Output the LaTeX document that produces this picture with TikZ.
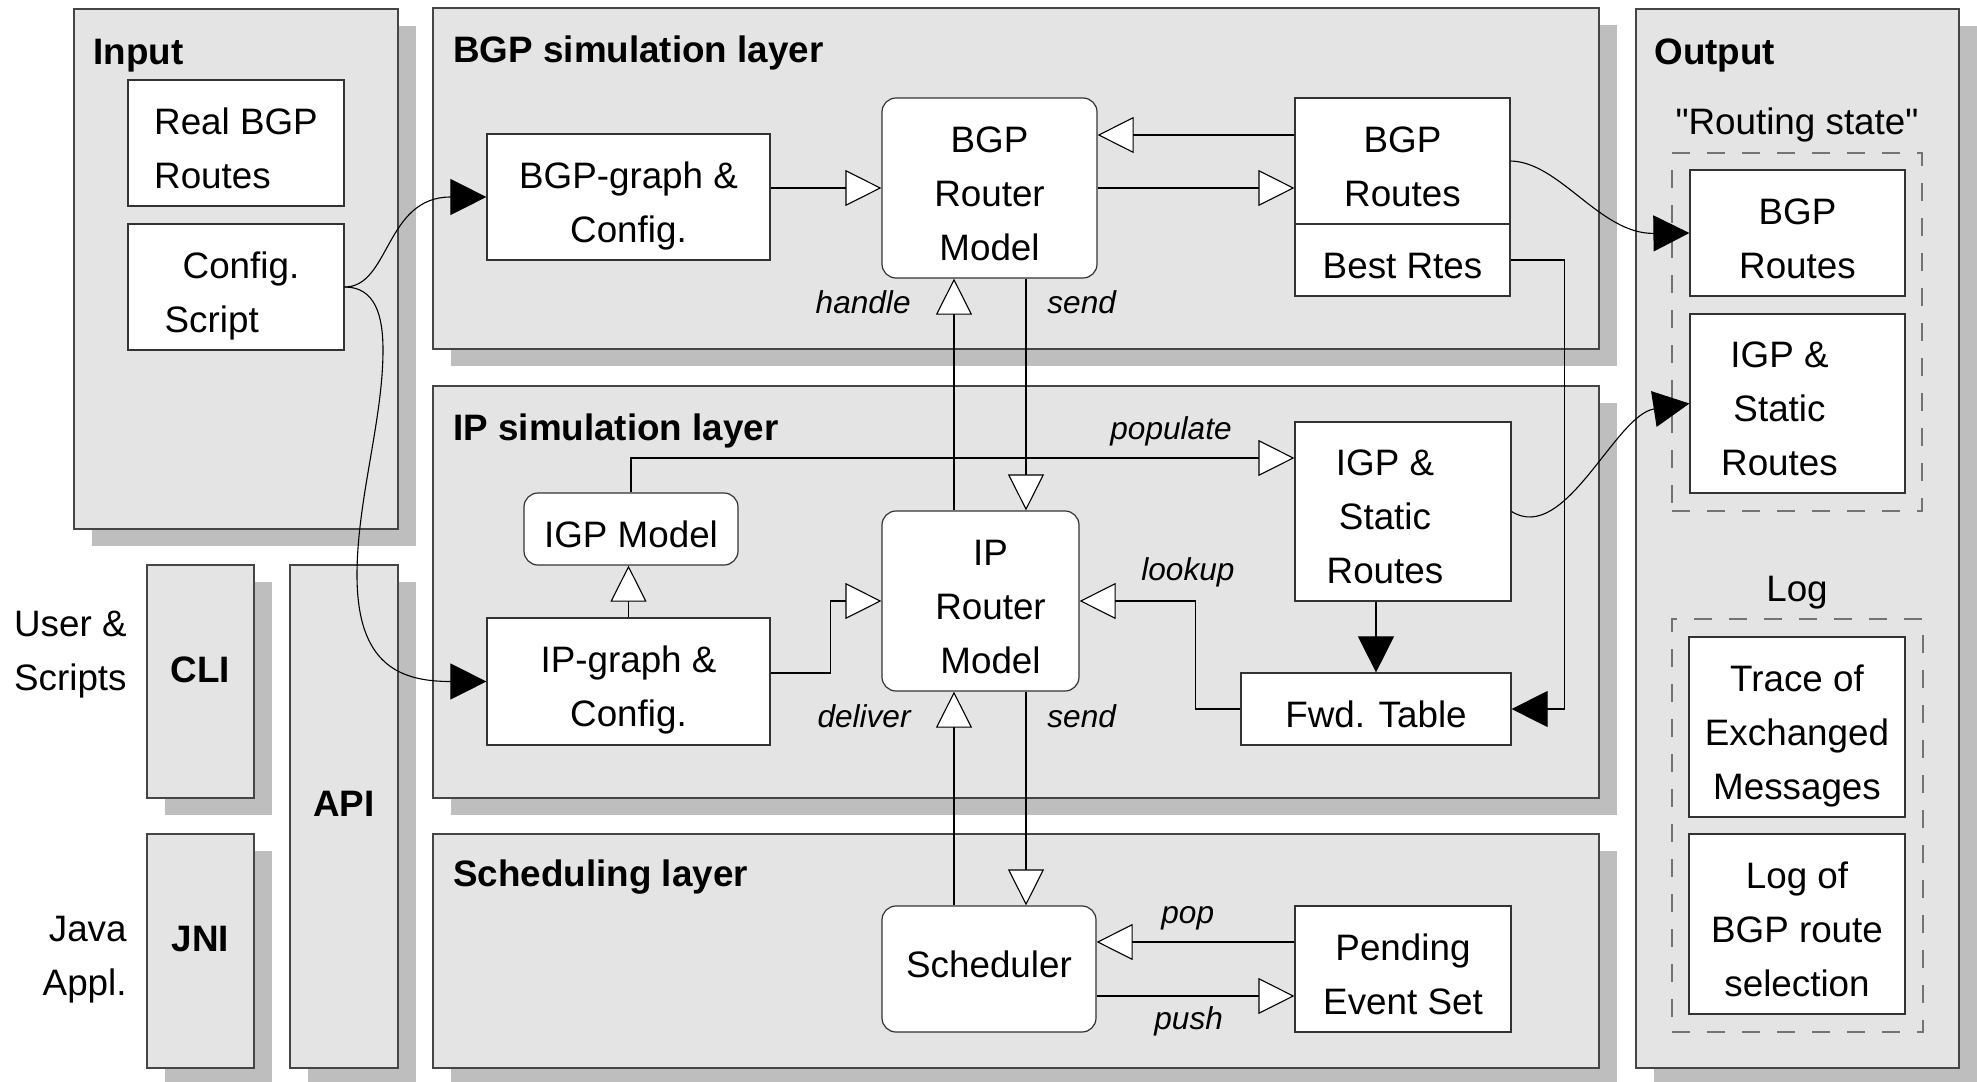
\documentclass[tikz,border=0pt]{standalone}
\usepackage{fontspec}
\setmainfont{Liberation Sans}
% same face without the TeX quote mapping, for straight double quotes
\newfontfamily\quotefont{Liberation Sans}
\usetikzlibrary{arrows.meta,shadows,calc}

\definecolor{panelfill}{gray}{0.894}
\definecolor{shadowfill}{gray}{0.745}
\definecolor{boxedge}{gray}{0.2}
\definecolor{paneledge}{gray}{0.27}
\definecolor{dashedge}{gray}{0.45}

% invisible rule that lowers the first line of a box label a little
\newcommand\capstrut{\rule{0pt}{18.2pt}}
% straight double quote
\newcommand\sq{{\quotefont"}}

\tikzset{
  bodyfont/.style={font=\fontsize{18.4pt}{27pt}\selectfont},
  panel/.style={draw=paneledge, line width=0.7pt, fill=panelfill, inner sep=0pt,
    drop shadow={shadow xshift=9pt, shadow yshift=-8.5pt, fill=shadowfill, opacity=1, draw=none}},
  box/.style={draw=boxedge, line width=0.6pt, fill=white, inner sep=0pt,
    bodyfont, align=center, text depth=0pt},
  rbox/.style={box, rounded corners=7pt},
  group/.style={draw=dashedge, line width=0.6pt, dash pattern=on 9pt off 8.5pt, inner sep=0pt},
  title/.style={font=\fontsize{18.4pt}{27pt}\selectfont\bfseries, inner sep=0pt, anchor=base west},
  plain/.style={bodyfont, inner sep=0pt, text depth=0pt},
  tag/.style={font=\fontsize{15.8pt}{19pt}\selectfont\itshape, inner sep=0pt},
  conn/.style={draw=black, line width=0.55pt},
  openarrow/.style={conn, -{Triangle[length=18pt, width=18pt, fill=white]}},
  fullarrow/.style={conn, -{Triangle[length=18pt, width=18pt]}},
}

\begin{document}
\begin{tikzpicture}[x=0.5pt, y=-0.5pt]
\useasboundingbox (0,0) rectangle (1977,1082);
\fill[white] (0,0) rectangle (1977,1082);

% ---------- panels ----------
\node[panel, minimum width=162pt, minimum height=260pt] (inputp) at (236,269) {};
\node[panel, minimum width=583pt, minimum height=170.5pt] (bgpp) at (1016,178.5) {};
\node[panel, minimum width=583pt, minimum height=206pt] (ipp) at (1016,592) {};
\node[panel, minimum width=583pt, minimum height=117pt] (schedp) at (1016,951) {};
\node[panel, minimum width=161.5pt, minimum height=529.5pt] (outp) at (1797.5,538.5) {};
\node[panel, minimum width=53.5pt, minimum height=116.5pt] (clip) at (200.5,681.5) {};
\node[panel, minimum width=53.5pt, minimum height=117pt] (jnip) at (200.5,951) {};
\node[panel, minimum width=54pt, minimum height=251.5pt] (apip) at (344,816.5) {};

% ---------- panel titles ----------
\node[title] (inputt) at (93,64) {Input};
\node[title] (bgpt) at (453,62) {BGP simulation layer};
\node[title] (ipt) at (453,440) {IP simulation layer};
\node[title] (schedt) at (453,886) {Scheduling layer};
\node[title] (outt) at (1654,64) {Output};
\node[title, anchor=base] (clit) at (200.5,682) {CLI};
\node[title, anchor=base] (apit) at (344,816) {API};
\node[title, anchor=base] (jnit) at (200.5,951) {JNI};

% ---------- side captions ----------
\node[plain, align=right, anchor=east] (userlbl) at (127,650.5) {User \&\\Scripts};
\node[plain, align=right, anchor=east] (javalbl) at (127,955.5) {Java\\Appl.};

% ---------- output groups ----------
\node[plain, anchor=base] (statelbl) at (1797,134) {\sq Routing state\sq};
\node[group, minimum width=125pt, minimum height=179pt] (stategrp) at (1797,332) {};
\node[plain, anchor=base] (loglbl) at (1797,601.5) {Log};
\node[group, minimum width=125.5pt, minimum height=206.5pt] (loggrp) at (1797.5,825.5) {};

% ---------- boxes ----------
\node[box, align=left, minimum width=108pt, minimum height=63pt] (realbgp) at (236,143) {\capstrut Real BGP\\Routes};
\node[box, align=left, minimum width=108pt, minimum height=63pt] (cfgscript) at (236,287) {\capstrut\hspace*{5pt}Config.\\\hspace*{-4pt}Script};

\node[box, minimum width=141.5pt, minimum height=63pt] (bgpgraph) at (628.5,197) {\capstrut BGP-graph \&\\Config.};
\node[rbox, minimum width=107.5pt, minimum height=90pt] (bgprouter) at (989.5,188) {\capstrut BGP\\Router\\Model};
\node[box, minimum width=107.5pt, minimum height=63pt] (bgproutes) at (1402.5,161) {\capstrut BGP\\Routes};
\node[box, minimum width=107.5pt, minimum height=36pt] (bestrtes) at (1402.5,260) {\capstrut Best Rtes};

\node[rbox, minimum width=107pt, minimum height=36pt] (igpmodel) at (631,529) {\capstrut IGP Model};
\node[box, minimum width=141.5pt, minimum height=63.5pt] (ipgraph) at (628.5,681.5) {\capstrut IP-graph \&\\Config.};
\node[rbox, minimum width=98.5pt, minimum height=90pt] (iprouter) at (980.5,601)
  {\capstrut\hspace*{10pt}IP\\\hspace*{10pt}Router\\\hspace*{10pt}Model};
\node[box, minimum width=108pt, minimum height=89.5pt] (igpstatic) at (1403,511.5)
  {\capstrut\hspace*{-18pt}IGP \&\\\hspace*{-18pt}Static\\\hspace*{-18pt}Routes};
\node[box, minimum width=135pt, minimum height=36pt] (fwdtable) at (1376,709) {\capstrut Fwd. Table};

\node[rbox, minimum width=107pt, minimum height=63pt, text depth=5pt] (scheduler) at (989,969) {Scheduler};
\node[box, minimum width=108pt, minimum height=63pt] (pending) at (1403,969) {\capstrut Pending\\Event Set};

\node[box, minimum width=107.5pt, minimum height=63pt] (outbgp) at (1797.5,233) {\capstrut BGP\\Routes};
\node[box, minimum width=107.5pt, minimum height=89.5pt] (outigp) at (1797.5,403.5)
  {\capstrut\hspace*{-18pt}IGP \&\\\hspace*{-18pt}Static\\\hspace*{-18pt}Routes};
\node[box, minimum width=108pt, minimum height=90pt] (trace) at (1797,727) {\capstrut Trace of\\Exchanged\\Messages};
\node[box, minimum width=108pt, minimum height=90pt] (logbgp) at (1797,924) {\capstrut Log of\\BGP route\\selection};

% ---------- connectors: input to the layers ----------
\draw[fullarrow] (cfgscript.east) .. controls (390,287) and (385,197) .. (bgpgraph.west);
\draw[fullarrow] (cfgscript.east) .. controls (375,287) and (383,315) .. (383,350)
  .. controls (383,420) and (357,500) .. (357,575)
  .. controls (357,665) and (400,681.5) .. (ipgraph.west);

% ---------- BGP layer ----------
\draw[openarrow] (bgpgraph.east |- bgprouter.west) -- (bgprouter.west);
\coordinate (bgpback) at ($(bgproutes.west)+(0,-26)$);
\draw[openarrow] (bgpback) -- (bgpback -| bgprouter.east);
\draw[openarrow] (bgprouter.east) -- (bgprouter.east -| bgproutes.west);
\draw[fullarrow] (bgproutes.east) .. controls (1560,162) and (1600,234) .. (outbgp.west);
\draw[fullarrow] (bestrtes.east) -- ++(54,0) |- (fwdtable.east);

% ---------- between BGP and IP layers ----------
\coordinate (handlefoot) at ($(iprouter.north)+(-26.5,0)$);
\draw[openarrow] (handlefoot) -- (handlefoot |- bgprouter.south);
\coordinate (sendtop) at ($(bgprouter.south)+(36.5,0)$);
\draw[openarrow] (sendtop) -- (sendtop |- iprouter.north);

% ---------- IP layer ----------
\draw[openarrow] (ipgraph.north) -- (ipgraph.north |- igpmodel.south);
\draw[openarrow] ($(ipgraph.east)+(0,-8.5)$) -- ++(60,0) |- (iprouter.west);
\draw[openarrow] (igpmodel.north) |- ($(igpstatic.west)+(0,-53.5)$);
\draw[openarrow] (fwdtable.west) -- ++(-45,0) |- (iprouter.east);
\draw[fullarrow] (igpstatic.south -| fwdtable.north) -- (fwdtable.north);
\draw[fullarrow] (igpstatic.east) .. controls (1565,545) and (1615,415) .. (outigp.west);

% ---------- between IP and scheduling layers ----------
\coordinate (deliverfoot) at ($(scheduler.north)+(-35,0)$);
\draw[openarrow] (deliverfoot) -- (deliverfoot |- iprouter.south);
\coordinate (sendmid) at ($(iprouter.south)+(45.5,0)$);
\draw[openarrow] (sendmid) -- (sendmid |- scheduler.north);

% ---------- scheduling layer ----------
\coordinate (popstart) at ($(pending.west)+(0,-27)$);
\draw[openarrow] (popstart) -- (popstart -| scheduler.east);
\coordinate (pushstart) at ($(scheduler.east)+(0,27)$);
\draw[openarrow] (pushstart) -- (pushstart -| pending.west);

% ---------- connector labels ----------
\node[tag, anchor=base east] (handlet) at (911,313) {handle};
\node[tag, anchor=base west] (sendt1) at (1047,313) {send};
\node[tag, anchor=base east] (delivert) at (911,727) {deliver};
\node[tag, anchor=base west] (sendt2) at (1047,727) {send};
\node[tag, anchor=base west] (populatet) at (1110,439) {populate};
\node[tag, anchor=base west] (lookupt) at (1141,580) {lookup};
\node[tag, anchor=base west] (popt) at (1161,923) {pop};
\node[tag, anchor=base west] (pusht) at (1154,1029) {push};
\end{tikzpicture}
\end{document}
